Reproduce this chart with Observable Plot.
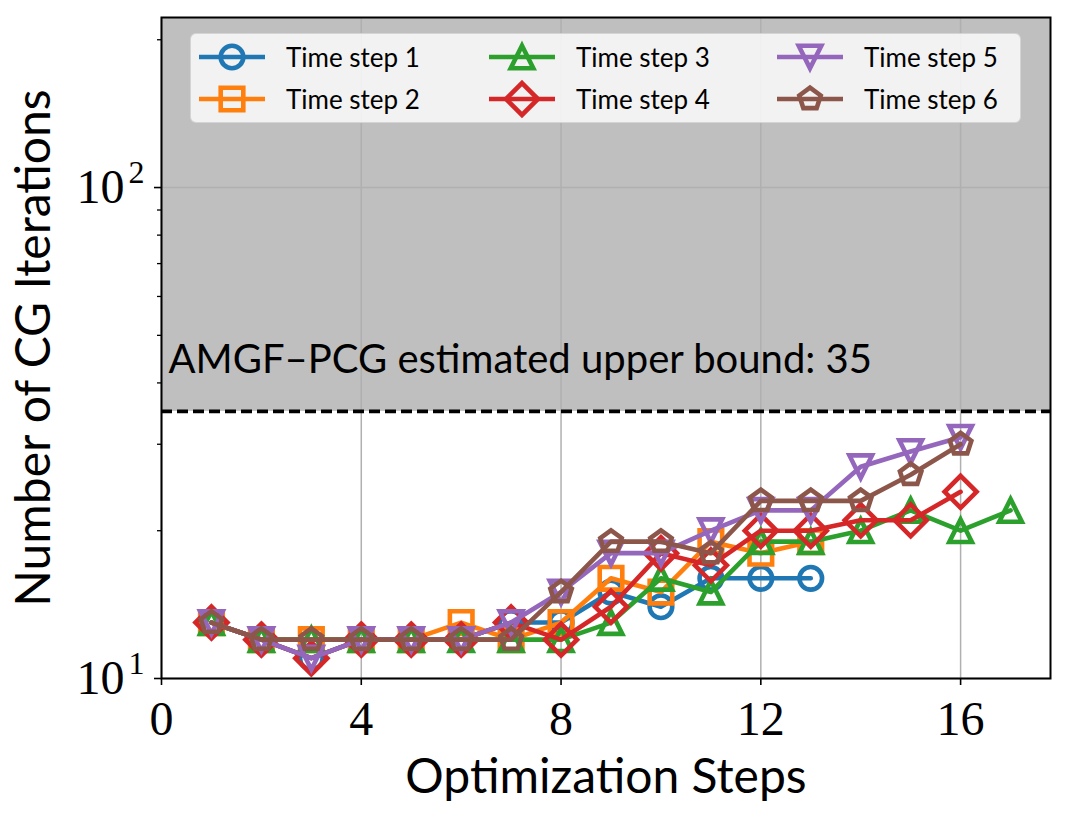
<!DOCTYPE html>
<html>
<head>
<meta charset="utf-8">
<script src="https://cdn.jsdelivr.net/npm/d3@7"></script>
<script src="https://cdn.jsdelivr.net/npm/@observablehq/plot@0.6"></script>
<style>
  body { margin: 0; background: #fff; }
  #wrap { position: relative; width: 1068px; height: 821px; }
  #legend {
    position: absolute; left: 190px; top: 33px; width: 831px; height: 90px;
    box-sizing: border-box;
    background: rgba(255,255,255,0.8);
    border: 1.5px solid rgba(204,204,204,0.8);
    border-radius: 6px;
    display: grid;
    grid-template-columns: 290px 288px 240px;
    grid-template-rows: 42px 42px;
    grid-auto-flow: column;
    padding: 0 0 0 8px;
    align-content: center;
  }
  .item { display: flex; align-items: center; }
  .item span { margin-left: 21px; font-family: Lato, "Open Sans", sans-serif; font-size: 26px; color: #000; }
</style>
</head>
<body>
<div id="wrap"><div id="chart"></div><div id="legend"></div></div>
<script>
// ---- data ----
const steps = [1, 2, 3, 4, 5, 6, 7, 8, 9, 10, 11, 12, 13, 14, 15, 16, 17];
const seriesNames = ["Time step 1", "Time step 2", "Time step 3", "Time step 4", "Time step 5", "Time step 6"];
const ts1 = [13, 12, 11, 12, 12, 12, 13, 13, 15, 14, 16, 16, 16];
const ts2 = [13, 12, 12, 12, 12, 13, 12, 13, 16, 15, 19, 18, 19];
const ts3 = [13, 12, 12, 12, 12, 12, 12, 12, 13, 16, 15, 19, 19, 20, 22, 20, 22];
const ts4 = [13, 12, 11, 12, 12, 12, 13, 12, 14, 18, 17, 20, 20, 21, 21, 24];
const ts5 = [13, 12, 11, 12, 12, 12, 13, 15, 18, 18, 20, 22, 22, 27, 29, 31];
const ts6 = [13, 12, 12, 12, 12, 12, 12, 15, 19, 19, 18, 23, 23, 23, 26, 30];
const seriesValues = [ts1, ts2, ts3, ts4, ts5, ts6];
const colors = ["#1f77b4", "#ff7f0e", "#2ca02c", "#d62728", "#9467bd", "#8c564b"];

const upperBound = 35;
const annotation = "AMGF–PCG estimated upper bound: 35";
const xTicks = [0, 4, 8, 12, 16];
const yMajor = [10, 100];
const yTickBase = "10";
const yTickExp = ["1", "2"];
const yMinor = [20, 30, 40, 50, 60, 70, 80, 90, 200];
const xDomain = [0, 17.8];
const yDomain = [10, 222];
const xLabel = "Optimization Steps";
const yLabel = "Number of CG Iterations";

// ---- marker symbols (matplotlib-like) ----
const rOf = size => Math.sqrt(size / Math.PI);
const poly = (ctx, pts) => { ctx.moveTo(pts[0][0], pts[0][1]); for (let i = 1; i < pts.length; i++) ctx.lineTo(pts[i][0], pts[i][1]); ctx.closePath(); };
const symCircle = { draw(ctx, size) { const r = rOf(size); ctx.moveTo(r, 0); ctx.arc(0, 0, r, 0, 2 * Math.PI); } };
const symSquare = { draw(ctx, size) { const r = rOf(size); poly(ctx, [[-r, -r], [r, -r], [r, r], [-r, r]]); } };
const symTriUp = { draw(ctx, size) { const r = rOf(size); poly(ctx, [[0, -r], [r, r], [-r, r]]); } };
const symDiamond = { draw(ctx, size) { const r = rOf(size) * Math.SQRT2; poly(ctx, [[0, -r], [r, 0], [0, r], [-r, 0]]); } };
const symTriDown = { draw(ctx, size) { const r = rOf(size); poly(ctx, [[0, r], [r, -r], [-r, -r]]); } };
const symPentagon = { draw(ctx, size) { const r = rOf(size); const pts = []; for (let k = 0; k < 5; k++) { const a = -Math.PI / 2 + k * 2 * Math.PI / 5; pts.push([r * Math.cos(a), r * Math.sin(a)]); } poly(ctx, pts); } };
const symbols = [symCircle, symSquare, symTriUp, symDiamond, symTriDown, symPentagon];

const markerR = 11.3;
const lw = 4.6;

// tidy rows
const rows = [];
seriesValues.forEach((vals, s) => vals.forEach((v, i) => rows.push({ series: seriesNames[s], step: steps[i], value: v })));

const seriesMarks = [];
seriesNames.forEach((name, s) => {
  const d = rows.filter(r => r.series === name);
  seriesMarks.push(Plot.line(d, { x: "step", y: "value", stroke: colors[s], strokeWidth: lw, strokeLinejoin: "round" }));
  seriesMarks.push(Plot.dot(d, { x: "step", y: "value", symbol: symbols[s], r: markerR, stroke: colors[s], fill: "none", strokeWidth: lw }));
});

const serif = "'Liberation Serif', 'DejaVu Serif', serif";
const sans = "Lato, 'Open Sans', sans-serif";

const chart = Plot.plot({
  width: 1068,
  height: 821,
  marginLeft: 161,
  marginRight: 18,
  marginTop: 17,
  marginBottom: 143,
  style: { background: "#fff", color: "#000" },
  x: { domain: xDomain, axis: null },
  y: { type: "log", domain: yDomain, axis: null },
  marks: [
    Plot.rectY([upperBound], { y1: d => d, y2: yDomain[1], fill: "#bfbfbf" }),
    Plot.gridX(xTicks, { stroke: "#b0b0b0", strokeOpacity: 1, strokeWidth: 1.5 }),
    Plot.gridY(yMajor, { stroke: "#b0b0b0", strokeOpacity: 1, strokeWidth: 1.5 }),
    Plot.ruleY([upperBound], { stroke: "#000", strokeWidth: 3.6, strokeDasharray: "11,5" }),
    Plot.text([annotation], { y: () => upperBound, frameAnchor: "left", text: d => d, textAnchor: "start", lineAnchor: "bottom", dx: 7, dy: -38, fontSize: 40, fontFamily: sans, fill: "#000" }),
    ...seriesMarks,
    Plot.frame({ stroke: "#000", strokeWidth: 2 }),
    Plot.axisX(xTicks, { tickSize: 7, tickPadding: 15, fontSize: 48, fontFamily: serif, label: null, strokeWidth: 1.6 }),
    Plot.axisY(yMajor, { tickSize: 7, tickFormat: () => "", label: null, strokeWidth: 1.6 }),
    Plot.axisY(yMinor, { tickSize: 4, tickFormat: () => "", label: null, strokeWidth: 1.3 }),
    Plot.text(yMajor, { y: d => d, frameAnchor: "left", text: () => yTickBase, textAnchor: "end", dx: -37, fontSize: 48, fontFamily: serif, fill: "#000" }),
    Plot.text(yMajor, { y: d => d, frameAnchor: "left", text: (d, i) => yTickExp[i], textAnchor: "end", dx: -17, dy: -15, fontSize: 32, fontFamily: serif, fill: "#000" }),
    Plot.text([xLabel], { frameAnchor: "bottom", text: d => d, lineAnchor: "bottom", dy: 114, fontSize: 48, fontFamily: sans, fill: "#000" }),
    Plot.text([yLabel], { frameAnchor: "left", text: d => d, rotate: -90, textAnchor: "middle", lineAnchor: "bottom", dx: -112, fontSize: 48, fontFamily: sans, fill: "#000" })
  ]
});
document.getElementById("chart").appendChild(chart);

// ---- legend ----
const legend = document.getElementById("legend");
seriesNames.forEach((name, s) => {
  const item = document.createElement("div");
  item.className = "item";
  const svg = d3.create("svg").attr("width", 66).attr("height", 42);
  svg.append("line").attr("x1", 0).attr("x2", 66).attr("y1", 21).attr("y2", 21)
    .attr("stroke", colors[s]).attr("stroke-width", lw);
  svg.append("path").attr("transform", "translate(33,21)")
    .attr("d", d3.symbol(symbols[s], Math.PI * markerR * markerR)())
    .attr("fill", "none").attr("stroke", colors[s]).attr("stroke-width", lw);
  item.appendChild(svg.node());
  const span = document.createElement("span");
  span.textContent = name;
  item.appendChild(span);
  legend.appendChild(item);
});
</script>
</body>
</html>
